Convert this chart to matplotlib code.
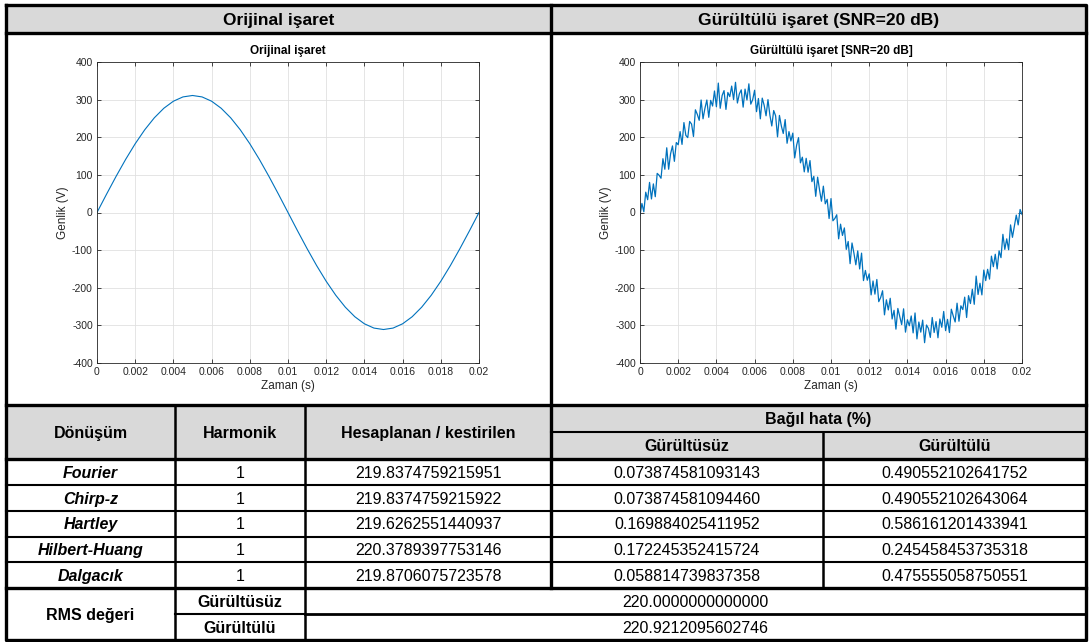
import matplotlib
matplotlib.use("Agg")
import matplotlib.pyplot as plt
import numpy as np

plt.rcParams['font.family'] = ['Liberation Sans', 'DejaVu Sans']
plt.rcParams['axes.unicode_minus'] = False

# ---- signal data ----
clean_v = [0, 48.7, 96.1, 141.2, 182.8, 219.9, 251.6, 277.1, 295.8, 307.2, 311.0,
           307.2, 295.8, 277.1, 251.6, 219.9, 182.8, 141.2, 96.1, 48.7, 0,
           -48.7, -96.1, -141.2, -182.8, -219.9, -251.6, -277.1, -295.8, -307.2, -311.0,
           -307.2, -295.8, -277.1, -251.6, -219.9, -182.8, -141.2, -96.1, -48.7, 0]

noisy_v = [-8, 24, 2, 54, 34, 80, 36, 76, 42, 104, 99, 91, 143, 115, 172, 115, 156, 177, 136, 186,
           180, 215, 181, 239, 205, 199, 242, 235, 202, 273, 261, 245, 299, 249, 277, 299, 253, 298, 283, 323,
           281, 344, 277, 311, 324, 274, 319, 308, 336, 300, 346, 291, 315, 326, 280, 328, 299, 342, 288, 300,
           325, 268, 303, 249, 304, 285, 257, 300, 259, 230, 271, 257, 201, 258, 230, 210, 247, 184, 215, 190,
           211, 145, 179, 199, 132, 147, 108, 144, 107, 138, 82, 96, 43, 94, 60, 30, 70, 23, 35, -16,
           37, -22, -16, -6, -70, -31, -61, -41, -98, -77, -136, -81, -108, -139, -102, -150, -108, -181, -154, -180,
           -163, -219, -182, -217, -178, -237, -226, -208, -272, -232, -259, -228, -283, -260, -310, -255, -276, -298, -256, -318,
           -285, -301, -275, -320, -267, -336, -291, -318, -286, -346, -299, -308, -332, -279, -319, -290, -333, -283, -305, -263,
           -314, -284, -319, -257, -275, -291, -241, -289, -248, -258, -225, -279, -221, -242, -204, -244, -169, -218, -188, -219,
           -153, -181, -151, -177, -116, -144, -111, -150, -102, -120, -58, -98, -70, -99, -33, -66, -37, -7, -33, 8,
           -5]

t_clean = np.linspace(0, 0.02, len(clean_v))
t_noisy = np.linspace(0, 0.02, len(noisy_v))

x_ticks = [0, 0.002, 0.004, 0.006, 0.008, 0.01, 0.012, 0.014, 0.016, 0.018, 0.02]
x_ticklabels = ['0', '0.002', '0.004', '0.006', '0.008', '0.01', '0.012', '0.014', '0.016', '0.018', '0.02']
y_ticks = [-400, -300, -200, -100, 0, 100, 200, 300, 400]

# ---- table data ----
methods = ['Fourier', 'Chirp-z', 'Hartley', 'Hilbert-Huang', 'Dalgacık']
harmonic = ['1', '1', '1', '1', '1']
estimated = ['219.8374759215951', '219.8374759215922', '219.6262551440937',
             '220.3789397753146', '219.8706075723578']
err_clean = ['0.073874581093143', '0.073874581094460', '0.169884025411952',
             '0.172245352415724', '0.058814739837358']
err_noisy = ['0.490552102641752', '0.490552102643064', '0.586161201433941',
             '0.245458453735318', '0.475555058750551']
rms_labels = ['Gürültüsüz', 'Gürültülü']
rms_values = ['220.0000000000000', '220.9212095602746']

W, H = 1091, 642
fig = plt.figure(figsize=(W / 100, H / 100), dpi=100)
bg = fig.add_axes([0, 0, 1, 1])
bg.set_xlim(0, W)
bg.set_ylim(H, 0)
bg.axis('off')

GRAY = '#d9d9d9'
THICK = 2.4
THIN = 1.5

# column / row edges (pixels)
X0, XC1, XC2, XM, XC4, X1 = 6, 175, 305, 551, 823, 1086
Y0, YH, YT, YB, YD = 5, 33, 405, 432, 459
row_h = (640 - YD) / 7
rows = [YD + i * row_h for i in range(8)]


def fill(x0, y0, x1, y1):
    bg.fill_between([x0, x1], y0, y1, color=GRAY, lw=0)


def hline(y, x0, x1, lw):
    bg.plot([x0, x1], [y, y], color='black', lw=lw, solid_capstyle='projecting')


def vline(x, y0, y1, lw):
    bg.plot([x, x], [y0, y1], color='black', lw=lw, solid_capstyle='projecting')


def txt(x, y, s, size=11.5, **kw):
    # y is the cell centre; put the baseline under it so all cells line up
    bg.text(x, y + size * 0.5, s, ha='center', va='baseline', fontsize=size, **kw)


fill(X0, Y0, X1, YH)
fill(X0, YT, X1, YD)

# grid lines
hline(YH, X0, X1, THICK)
hline(YT, X0, X1, THICK)
hline(YB, XM, X1, THIN)
hline(YD, X0, X1, THICK)
for y in rows[1:5]:
    hline(y, X0, X1, THIN)
hline(rows[5], X0, X1, THICK)
hline(rows[6], XC1, XC2, THIN)
hline(rows[6], XC2, X1, 2.0)
vline(XM, Y0, rows[5], THICK)
vline(XC1, YT, rows[7], 1.8)
vline(XC2, YT, rows[7], 1.8)
vline(XC4, YB, rows[5], 1.8)
bg.plot([X0, X1, X1, X0, X0], [Y0, Y0, rows[7], rows[7], Y0], color='black', lw=THICK)

# header texts
txt((X0 + XM) / 2, (Y0 + YH) / 2, 'Orijinal işaret', size=12.5, fontweight='bold')
txt((XM + X1) / 2, (Y0 + YH) / 2, 'Gürültülü işaret (SNR=20 dB)', size=12.5, fontweight='bold')
txt((X0 + XC1) / 2, (YT + YD) / 2, 'Dönüşüm', fontweight='bold')
txt((XC1 + XC2) / 2, (YT + YD) / 2, 'Harmonik', fontweight='bold')
txt((XC2 + XM) / 2, (YT + YD) / 2, 'Hesaplanan / kestirilen', fontweight='bold')
txt((XM + X1) / 2, (YT + YB) / 2, 'Bağıl hata (%)', fontweight='bold')
txt((XM + XC4) / 2, (YB + YD) / 2, 'Gürültüsüz', fontweight='bold')
txt((XC4 + X1) / 2, (YB + YD) / 2, 'Gürültülü', fontweight='bold')

for i in range(len(methods)):
    yc = (rows[i] + rows[i + 1]) / 2
    txt((X0 + XC1) / 2, yc, methods[i], fontweight='bold', fontstyle='italic')
    txt((XC1 + XC2) / 2, yc, harmonic[i])
    txt((XC2 + XM) / 2, yc, estimated[i])
    txt((XM + XC4) / 2, yc, err_clean[i])
    txt((XC4 + X1) / 2, yc, err_noisy[i])

txt((X0 + XC1) / 2, rows[6], 'RMS değeri', fontweight='bold')
for j in range(2):
    yc = (rows[5 + j] + rows[6 + j]) / 2
    txt((XC1 + XC2) / 2, yc, rms_labels[j], fontweight='bold')
    txt((XC2 + X1) / 2, yc, rms_values[j])


def signal_axes(left, title, t, v, lw):
    ax = fig.add_axes([left / W, 1 - 363 / H, 382 / W, 301 / H])
    ax.plot(t, v, color='#0072BD', lw=lw)
    ax.set_xlim(0, 0.02)
    ax.set_ylim(-400, 400)
    ax.set_xticks(x_ticks, x_ticklabels)
    ax.set_yticks(y_ticks)
    ax.grid(True, color='#e0e0e0', lw=0.6)
    ax.set_axisbelow(True)
    ax.tick_params(direction='in', top=True, right=True, length=3, width=0.6,
                   labelsize=7.5, colors='#262626', pad=3)
    for s in ax.spines.values():
        s.set_color('#262626')
        s.set_linewidth(0.6)
    ax.set_title(title, fontsize=8.5, fontweight='bold', pad=6, color='black')
    ax.set_xlabel('Zaman (s)', fontsize=8.5, labelpad=2, color='#262626')
    ax.set_ylabel('Genlik (V)', fontsize=8.5, labelpad=2, color='#262626')
    return ax


signal_axes(97, 'Orijinal işaret', t_clean, clean_v, 0.8)
signal_axes(640, 'Gürültülü işaret [SNR=20 dB]', t_noisy, noisy_v, 0.9)

fig.savefig('out.png', dpi=100)
